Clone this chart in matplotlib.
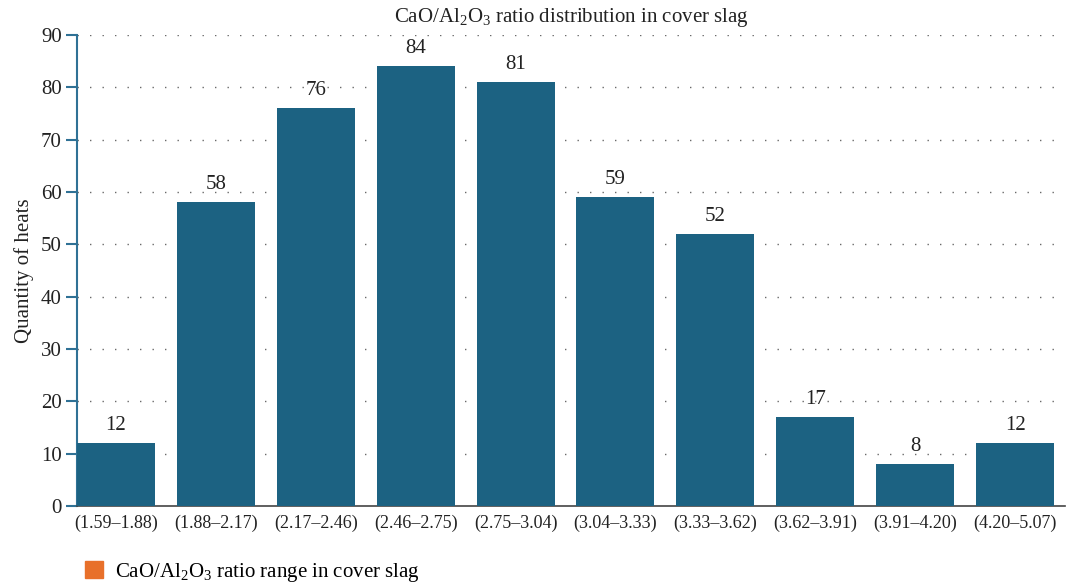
import matplotlib
matplotlib.use("Agg")
import matplotlib.pyplot as plt
from matplotlib.patches import Patch

plt.rcParams['font.family'] = ['Liberation Serif', 'DejaVu Serif']
plt.rcParams['mathtext.fontset'] = 'custom'
plt.rcParams['mathtext.rm'] = 'Liberation Serif'

categories = ["(1.59–1.88)", "(1.88–2.17)", "(2.17–2.46)", "(2.46–2.75)", "(2.75–3.04)",
              "(3.04–3.33)", "(3.33–3.62)", "(3.62–3.91)", "(3.91–4.20)", "(4.20–5.07)"]
heats = [12, 58, 76, 84, 81, 59, 52, 17, 8, 12]
y_ticks = [0, 10, 20, 30, 40, 50, 60, 70, 80, 90]

bar_color = "#1c6282"
legend_color = "#e8702a"
axis_color = "#2f7195"
text_color = "#222222"

fig = plt.figure(figsize=(10.71, 5.84), dpi=100)
ax = fig.add_axes([0.0719, 0.1336, 0.9225, 0.8065])

x = list(range(len(categories)))
ax.bar(x, heats, width=0.78, color=bar_color, zorder=3)

for xi, v in zip(x, heats):
    ax.annotate(str(v), (xi, v), xytext=(0, 6), textcoords="offset points",
                ha="center", va="bottom", fontsize=15, color=text_color)

ax.set_xlim(-0.39, 9.5)
ax.set_ylim(0, 90)
ax.set_yticks(y_ticks)
ax.set_xticks(x)
ax.set_xticklabels(categories, fontsize=13, color=text_color)
ax.tick_params(axis="x", length=0, pad=6)
ax.tick_params(axis="y", length=8, width=1.5, color=axis_color, labelsize=15,
               labelcolor=text_color, pad=3)

for yt in y_ticks[1:]:
    ax.axhline(yt, color="#6a6a6a", linewidth=1.0, linestyle=(0, (1, 8)), zorder=1)

for side in ("top", "right"):
    ax.spines[side].set_visible(False)
ax.spines["left"].set_color(axis_color)
ax.spines["left"].set_linewidth(1.5)
ax.spines["bottom"].set_color("#444444")
ax.spines["bottom"].set_linewidth(1.2)

ax.set_ylabel("Quantity of heats", fontsize=15, color=text_color, labelpad=5)
ax.set_title(r"CaO/Al$_\mathregular{2}$O$_\mathregular{3}$ ratio distribution in cover slag",
             fontsize=15, color=text_color, pad=9)

fig.legend(handles=[Patch(color=legend_color,
                          label=r"CaO/Al$_\mathregular{2}$O$_\mathregular{3}$ ratio range in cover slag")],
           loc="lower left", bbox_to_anchor=(0.062, -0.032), frameon=False,
           fontsize=15, handlelength=0.85, handleheight=0.85, handletextpad=0.6)

fig.savefig("out.png", dpi=100)
